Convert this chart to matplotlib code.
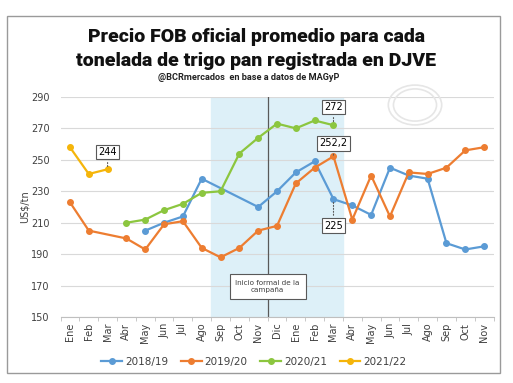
import numpy as np
import matplotlib.pyplot as plt
from matplotlib.patches import Rectangle, Circle

months = ['Ene', 'Feb', 'Mar', 'Abr', 'May', 'Jun', 'Jul', 'Ago', 'Sep', 'Oct', 'Nov', 'Dic',
          'Ene', 'Feb', 'Mar', 'Abr', 'May', 'Jun', 'Jul', 'Ago', 'Sep', 'Oct', 'Nov']
nan = np.nan
s1819 = [nan, nan, nan, nan, 205, 210, 214, 238, nan, nan, 220, 230,
         242, 249, 225, 221, 215, 245, 240, 238, 197, 193, 195]
s1920 = [223, 205, nan, 200, 193, 209, 211, 194, 188, 194, 205, 208,
         235, 245, 252.2, 212, 240, 214, 242, 241, 245, 256, 258]
s2021 = [nan, nan, nan, 210, 212, 218, 222, 229, 230, 254, 264, 273,
         270, 275, 272, nan, nan, nan, nan, nan, nan, nan, nan]
s2122 = [258, 241, 244, nan, nan, nan, nan, nan, nan, nan, nan, nan,
         nan, nan, nan, nan, nan, nan, nan, nan, nan, nan, nan]
series = [('2018/19', s1819, '#5B9BD5'), ('2019/20', s1920, '#ED7D31'),
          ('2020/21', s2021, '#8CC63F'), ('2021/22', s2122, '#F5B50A')]

title_font = ['Liberation Sans Narrow', 'Roboto', 'DejaVu Sans']

fig = plt.figure(figsize=(5.13, 3.83), dpi=100)
ax = fig.add_axes([0.118, 0.172, 0.844, 0.575])

# campaign window shading + start line
ax.axvspan(7.5, 14.5, color='#DDF0F8', zorder=0)
ax.axvline(10.5, color='#595959', lw=0.9, zorder=1)

x = np.arange(len(months))
for name, vals, col in series:
    y = np.array(vals, dtype=float)
    m = ~np.isnan(y)
    ax.plot(x[m], y[m], color=col, lw=1.6, marker='o', ms=4, label=name, zorder=3)

ax.set_xlim(-0.5, len(months) - 0.5)
ax.set_ylim(150, 290)
ax.set_yticks(range(150, 291, 20))
ax.set_xticks(x)
ax.set_xticklabels(months, rotation=90, fontsize=7, color='#404040')
ax.set_xticks(np.arange(-0.5, len(months), 1), minor=True)
ax.tick_params(axis='x', which='major', length=0, pad=4)
ax.tick_params(axis='x', which='minor', length=3, color='#BFBFBF')
ax.tick_params(axis='y', length=0, labelsize=7, labelcolor='#404040', pad=8)
ax.grid(axis='y', color='#D9D9D9', lw=0.8)
ax.set_axisbelow(True)
for s in ['top', 'right', 'left']:
    ax.spines[s].set_visible(False)
ax.spines['bottom'].set_color('#BFBFBF')
ax.set_ylabel('US$/tn', fontsize=7, color='#404040', labelpad=1)

box = dict(boxstyle='square,pad=0.25', fc='white', ec='#595959', lw=0.8)
arr = dict(arrowstyle='-', linestyle=':', color='#595959', lw=0.8)
ax.annotate('244', xy=(2, 244), xytext=(2, 255), ha='center', va='center',
            fontsize=7, bbox=box, arrowprops=arr)
ax.annotate('272', xy=(14, 272), xytext=(14, 283.6), ha='center', va='center',
            fontsize=7, bbox=box, arrowprops=arr)
ax.annotate('252,2', xy=(14, 252.2), xytext=(14, 260.4), ha='center', va='center',
            fontsize=7, bbox=box, arrowprops=arr)
ax.annotate('225', xy=(14, 225), xytext=(14, 208), ha='center', va='center',
            fontsize=7, bbox=box, arrowprops=arr)
ax.text(10.5, 169.5, 'Inicio formal de la\ncampaña', ha='center', va='center', fontsize=5.2,
        color='#404040', zorder=4,
        bbox=dict(boxstyle='square,pad=0.8', fc='white', ec='#595959', lw=0.8))

ax.legend(loc='center', bbox_to_anchor=(0.495, 0.055), bbox_transform=fig.transFigure,
          ncol=4, frameon=False, fontsize=7.5, handlelength=2, columnspacing=1.2,
          handletextpad=0.3, labelcolor='#404040')

# faint watermark
for r in [0.052, 0.042]:
    fig.patches.append(Circle((415 / 513, 1 - 105 / 383), r, transform=fig.transFigure,
                              fill=False, ec='#E6E6E6', lw=1.2))

fig.text(0.5, 0.904, 'Precio FOB oficial promedio para cada', ha='center', va='center',
         fontsize=14, fontweight='heavy', family=title_font, color='#111111')
fig.text(0.5, 0.840, 'tonelada de trigo pan registrada en DJVE', ha='center', va='center',
         fontsize=14, fontweight='heavy', family=title_font, color='#111111')
fig.text(0.485, 0.798, '@BCRmercados  en base a datos de MAGyP', ha='center', va='center',
         fontsize=6.6, fontweight='bold', family=title_font, color='#222222')

fig.patches.append(Rectangle((7 / 513, 1 - 372.7 / 383), 493 / 513, 357 / 383,
                             transform=fig.transFigure, fill=False, ec='#9A9A9A', lw=1))

fig.savefig('out.png', dpi=100)
